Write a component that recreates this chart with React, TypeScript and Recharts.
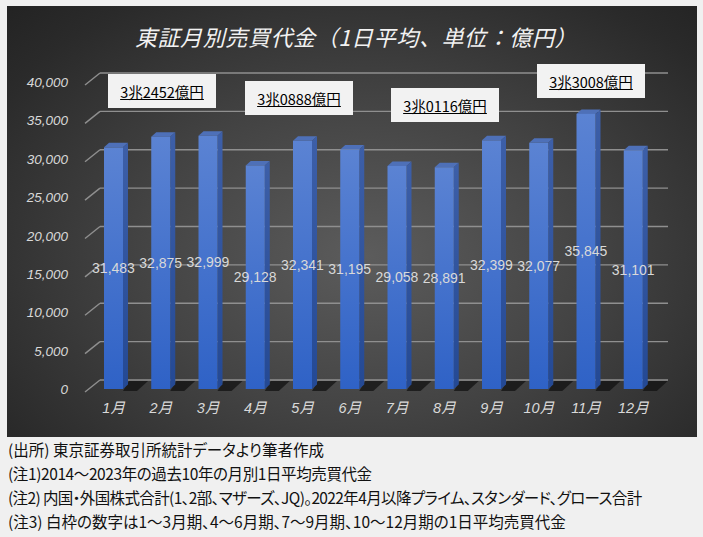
import React from 'react';
import { BarChart, Bar, XAxis, YAxis, CartesianGrid, LabelList } from 'recharts';

const months = ['1月', '2月', '3月', '4月', '5月', '6月', '7月', '8月', '9月', '10月', '11月', '12月'];
const values = [31483, 32875, 32999, 29128, 32341, 31195, 29058, 28891, 32399, 32077, 35845, 31101];
const yTicks = [0, 5000, 10000, 15000, 20000, 25000, 30000, 35000, 40000];
const quarterTotals = ['3兆2452億円', '3兆0888億円', '3兆0116億円', '3兆3008億円'];
const title = '東証月別売買代金（1日平均、単位：億円）';
const notes = [
  '(出所) 東京証券取引所統計データより筆者作成',
  '(注1)2014～2023年の過去10年の月別1日平均売買代金',
  '(注2) 内国・外国株式合計(1、2部、マザーズ、JQ)。2022年4月以降プライム、スタンダード、グロース合計',
  '(注3) 白枠の数字は1～3月期、4～6月期、7～9月期、10～12月期の1日平均売買代金',
];

const data = months.map((m, i) => ({ month: m, value: values[i] }));

// where the white quarter boxes sit
const boxPos = [
  { left: 108, top: 74 },
  { left: 245, top: 81 },
  { left: 391, top: 88 },
  { left: 537, top: 64 },
];
// per-line tracking so the note lines end where the original ones do
const noteTracking = [0, -0.4, -0.62, 0];

const gridColor = '#8f8f8f';

const gridLine = (props: any) => {
  const { x1, x2, y1 } = props;
  return (
    <g key={`g-${y1}`}>
      <line x1={x1 - 5} y1={y1 + 3} x2={x1 + 10} y2={y1 - 9} stroke={gridColor} strokeWidth={1.4} />
      <line x1={x1 + 10} y1={y1 - 9} x2={x2 + 11} y2={y1 - 9} stroke={gridColor} strokeWidth={1.4} />
    </g>
  );
};

const Bar3D = (props: any) => {
  const { x, y, width, height } = props;
  const d = 5;
  const dy = 4.5;
  const base = y + height;
  return (
    <g>
      <polygon
        points={`${x + width},${base + 2} ${x + width + 14},${base + 2} ${x + width + 25},${base - 8} ${x + width + 6},${base - 8}`}
        fill="#111"
        opacity={0.75}
      />
      <polygon
        points={`${x},${y} ${x + d},${y - dy} ${x + width + d},${y - dy} ${x + width},${y}`}
        fill="#4e70b8"
      />
      <polygon
        points={`${x + width},${y} ${x + width + d},${y - dy} ${x + width + d},${base - dy} ${x + width},${base}`}
        fill="url(#sideGrad)"
      />
      <rect x={x} y={y} width={width} height={height} fill="url(#frontGrad)" />
    </g>
  );
};

const YTick = (props: any) => {
  const { x, y, payload } = props;
  return (
    <text x={x} y={y} dy={5} textAnchor="end" fill="#d9d9d9" fontSize={13.5} fontStyle="italic"
      fontFamily="'Liberation Sans', sans-serif">
      {payload.value.toLocaleString('en-US')}
    </text>
  );
};

const XTick = (props: any) => {
  const { x, y, payload } = props;
  return (
    <text x={x} y={y} dy={18} textAnchor="middle" fill="#d9d9d9" fontSize={14.5} fontStyle="italic"
      fontFamily="'Liberation Sans', 'Noto Sans CJK JP', sans-serif">
      {payload.value}
    </text>
  );
};

export default function App() {
  return (
    <div style={{ position: 'absolute', left: 0, top: 0, width: 703, height: 537, background: '#f0f0f0', overflow: 'hidden' }}>
      <svg width={0} height={0} style={{ position: 'absolute' }}>
        <defs>
          <linearGradient id="frontGrad" x1="0" y1="0" x2="0" y2="1">
            <stop offset="0%" stopColor="#5b83d3" />
            <stop offset="100%" stopColor="#2f62c6" />
          </linearGradient>
          <linearGradient id="sideGrad" x1="0" y1="0" x2="0" y2="1">
            <stop offset="0%" stopColor="#3d5fa8" />
            <stop offset="100%" stopColor="#244994" />
          </linearGradient>
        </defs>
      </svg>
      <div
        style={{
          position: 'absolute', left: 7, top: 6, width: 690, height: 431,
          background: 'radial-gradient(ellipse at 52% 58%, #5c5c5c 0%, #434343 45%, #2a2a2a 85%, #232323 100%)',
        }}
      />
      <div
        style={{
          position: 'absolute', left: 0, top: 20, width: 712, textAlign: 'center', color: '#f2f2f2',
          fontSize: 22, fontStyle: 'italic', fontFamily: "'Noto Sans CJK JP', sans-serif", letterSpacing: 0.6, lineHeight: '32px',
        }}
      >
        {title}
      </div>
      <div style={{ position: 'absolute', left: 0, top: 0 }}>
        <BarChart width={703} height={440} data={data} margin={{ top: 82, right: 46, bottom: 21, left: 0 }}>
          <CartesianGrid vertical={false} horizontal={gridLine} />
          <YAxis
            domain={[0, 40000]}
            ticks={yTicks}
            width={90}
            axisLine={false}
            tickLine={false}
            tickMargin={16}
            tick={<YTick />}
          />
          <XAxis dataKey="month" height={30} axisLine={false} tickLine={false} tickMargin={0} tick={<XTick />} interval={0} />
          <Bar dataKey="value" barSize={19} shape={<Bar3D />} isAnimationActive={false}>
            <LabelList
              dataKey="value"
              position="center"
              fill="#d9d9d9"
              fontSize={14}
              fontFamily="'Liberation Sans', sans-serif"
              formatter={(v: any) => Number(v).toLocaleString('en-US')}
            />
          </Bar>
        </BarChart>
      </div>
      {quarterTotals.map((t, i) => (
        <div
          key={t}
          style={{
            position: 'absolute', left: boxPos[i].left, top: boxPos[i].top, width: 108, height: 34,
            background: '#f2f2f2', display: 'flex', alignItems: 'center', justifyContent: 'center',
            fontSize: 14.5, color: '#000', textDecoration: 'underline', fontFamily: "'Noto Sans CJK JP', sans-serif",
          }}
        >
          {t}
        </div>
      ))}
      <div
        style={{
          position: 'absolute', left: 8, top: 437, fontFamily: "'Noto Sans CJK JP', sans-serif", fontSize: 15.5,
          fontFeatureSettings: '"palt"', color: '#111', lineHeight: '24px', whiteSpace: 'nowrap',
        }}
      >
        {notes.map((n, i) => (
          <div key={n} style={{ letterSpacing: noteTracking[i] }}>{n}</div>
        ))}
      </div>
    </div>
  );
}
